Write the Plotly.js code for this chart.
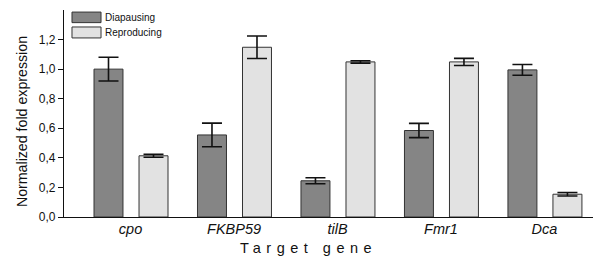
<!DOCTYPE html>
<html><head><meta charset="utf-8">
<script src="https://cdn.plot.ly/plotly-3.0.1.min.js"></script>
<style>html,body{margin:0;padding:0;background:#fff}#chart{width:600px;height:264px}</style>
</head><body><div id="chart"></div>
<script>
var genes = ['cpo', 'FKBP59', 'tilB', 'Fmr1', 'Dca'];
var seriesNames = ['Diapausing', 'Reproducing'];
var diapausing = [1.00, 0.555, 0.245, 0.585, 0.995];
var diapausingErr = [0.08, 0.08, 0.02, 0.048, 0.036];
var reproducing = [0.414, 1.148, 1.049, 1.049, 0.154];
var reproducingErr = [0.01, 0.076, 0.008, 0.024, 0.012];
var yTicks = [0, 0.2, 0.4, 0.6, 0.8, 1.0, 1.2];
var xTitle = 'Target gene';
var yTitle = 'Normalized fold expression';

var colors = ['#858585', '#e2e2e2'];
var font = 'Liberation Sans, Arial, sans-serif';
var tickText = genes.map(function (g) { return '<i>' + g + '</i>'; });

function barTrace(name, vals, errs, color, offset) {
  return {
    type: 'bar', name: name, x: genes, y: vals,
    offset: offset, width: 0.28,
    marker: { color: color, line: { color: '#333333', width: 1 } },
    error_y: { type: 'data', array: errs, visible: true, color: '#111', thickness: 1.6, width: 10 },
    showlegend: false
  };
}

var data = [
  barTrace(seriesNames[0], diapausing, diapausingErr, colors[0], -0.353),
  barTrace(seriesNames[1], reproducing, reproducingErr, colors[1], 0.082)
];

var layout = {
  width: 600, height: 264,
  margin: { l: 64, r: 7, t: 10, b: 47 },
  paper_bgcolor: '#fff', plot_bgcolor: '#fff',
  separators: ',.',
  font: { family: font, color: '#111', size: 12 },
  xaxis: {
    type: 'category', range: [-0.643, 4.469],
    tickvals: genes, ticktext: tickText,
    showline: true, linecolor: '#111', linewidth: 1.2,
    ticks: '', showgrid: false, zeroline: false,
    ticklabelstandoff: -2,
    tickfont: { size: 14.5, family: font, color: '#111' }
  },
  yaxis: {
    range: [0, 1.4], tickvals: yTicks, tickformat: '.1f',
    showline: true, linecolor: '#111', linewidth: 1.2,
    ticks: 'outside', ticklen: 5, tickcolor: '#111', tickwidth: 1,
    showgrid: false, zeroline: false,
    tickfont: { size: 12, family: font, color: '#111' }
  },
  shapes: [],
  annotations: [{
    xref: 'paper', yref: 'paper', x: 0.462, y: -0.150,
    xanchor: 'center', yanchor: 'middle', showarrow: false,
    text: '<span style="letter-spacing:5.5px">' + xTitle + '</span>',
    font: { size: 14.5, family: font, color: '#111' }
  }, {
    xref: 'paper', yref: 'paper', x: -0.0803, y: 0.461,
    xanchor: 'center', yanchor: 'middle', showarrow: false, textangle: -90,
    text: yTitle,
    font: { size: 14.2, family: font, color: '#111' }
  }]
};

var legY = [[0.990, 0.939], [0.918, 0.865]];
for (var i = 0; i < 2; i++) {
  layout.shapes.push({
    type: 'rect', xref: 'paper', yref: 'paper',
    x0: 0.0151, x1: 0.070, y0: legY[i][1], y1: legY[i][0],
    fillcolor: colors[i], line: { color: '#333', width: 1 }
  });
  layout.annotations.push({
    xref: 'paper', yref: 'paper', x: 0.073, y: (legY[i][0] + legY[i][1]) / 2,
    xanchor: 'left', yanchor: 'middle', showarrow: false,
    text: seriesNames[i], font: { size: 10, family: font, color: '#111' }
  });
}

Plotly.newPlot('chart', data, layout, { displayModeBar: false, staticPlot: true });
</script></body></html>
